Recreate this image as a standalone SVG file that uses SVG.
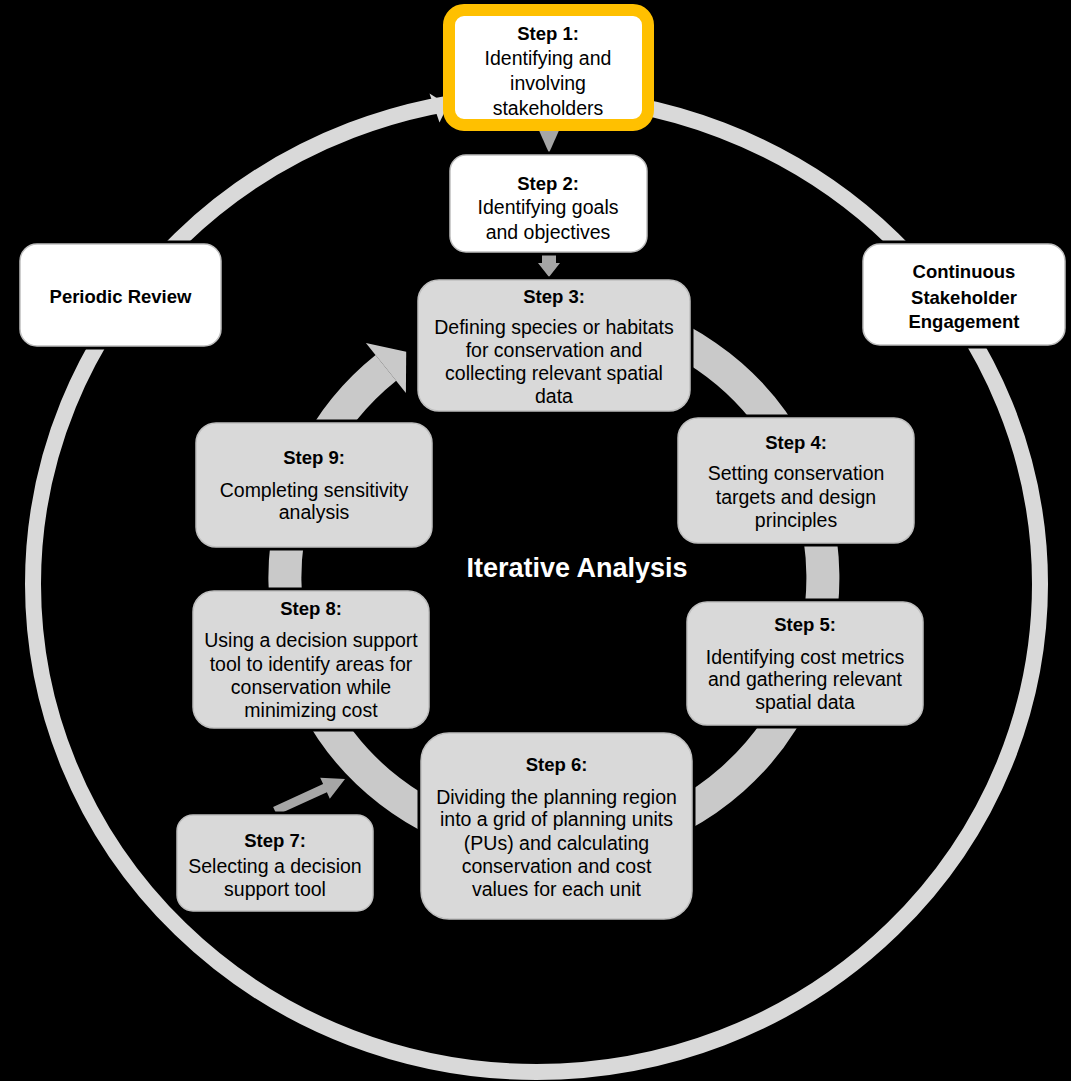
<svg xmlns="http://www.w3.org/2000/svg" width="1071" height="1081" viewBox="0 0 1071 1081">
<style>
.halo{fill:#000;stroke:#000;stroke-width:7}
.gbox{fill:#D9D9D9;stroke:#BFBFBF;stroke-width:1.5}
.wbox{fill:#FFFFFF;stroke:#BFBFBF;stroke-width:1.5}
.t{font-family:"Liberation Sans",Arial,sans-serif;font-size:19.5px;fill:#000;text-anchor:middle}
.b{font-weight:bold;font-size:18.5px}
.big{font-family:"Liberation Sans",Arial,sans-serif;font-size:27px;font-weight:bold;fill:#FFF;text-anchor:middle}
.ring{fill:none;stroke:#C9C9C9;stroke-width:33}
.outer{fill:none;stroke:#D9D9D9;stroke-width:16}
.dark{fill:#A6A6A6}
</style>
<rect x="0" y="0" width="1071" height="1081" fill="#000"/>
<g id="connectors">
  <ellipse class="outer" cx="536.5" cy="584" rx="503.5" ry="488"/>
  <polygon fill="#D9D9D9" points="429.5,93.5 439.5,122.5 448,105"/>
  <path class="ring" d="M 600.7 313.1 A 269 269 0 1 1 385.9 367.9"/>
  <polygon fill="#C9C9C9" points="365.9,342.9 405.9,392.9 406.2,351.7"/>
  <polygon class="dark" points="537,126 561,126 549,153"/>
  <polygon class="dark" points="542,255 556,255 556,263 560,263 549,277 538,263 542,263"/>
  <polygon class="dark" points="276.9,815.1 326.9,792.3 329.8,798.7 345,779 320.2,777.7 323.1,784.1 273.1,806.9"/>
</g>
<g id="periodic-review">
  <rect class="halo" x="20" y="244" width="201" height="102" rx="17"/>
  <rect class="wbox" x="20" y="244" width="201" height="102" rx="17"/>
  <text class="t b" x="120.5" y="302.5">Periodic Review</text>
</g>
<g id="continuous-engagement">
  <rect class="halo" x="863" y="244" width="202" height="101" rx="17"/>
  <rect class="wbox" x="863" y="244" width="202" height="101" rx="17"/>
  <text class="t b" x="964" y="277.5">Continuous</text>
  <text class="t b" x="964" y="303.5">Stakeholder</text>
  <text class="t b" x="964" y="327.5">Engagement</text>
</g>
<g id="step1">
  <rect x="449" y="10" width="199" height="115" rx="15" fill="#FFF" stroke="#FFC000" stroke-width="12"/>
  <text class="t b" x="548" y="39.5">Step 1:</text>
  <text class="t" x="548" y="64.5">Identifying and</text>
  <text class="t" x="548" y="89.5">involving</text>
  <text class="t" x="548" y="114.5">stakeholders</text>
</g>
<g id="step2">
  <rect class="halo" x="450" y="155" width="197" height="97" rx="16"/>
  <rect class="wbox" x="450" y="155" width="197" height="97" rx="16"/>
  <text class="t b" x="548" y="189.5">Step 2:</text>
  <text class="t" x="548" y="213.5">Identifying goals</text>
  <text class="t" x="548" y="238.5">and objectives</text>
</g>
<g id="step3">
  <rect class="halo" x="418" y="280" width="272" height="131" rx="21"/>
  <rect class="gbox" x="418" y="280" width="272" height="131" rx="21"/>
  <text class="t b" x="554" y="302.5">Step 3:</text>
  <text class="t" x="554" y="333.5">Defining species or habitats</text>
  <text class="t" x="554" y="356.5">for conservation and</text>
  <text class="t" x="554" y="379.5">collecting relevant spatial</text>
  <text class="t" x="554" y="402.5">data</text>
</g>
<g id="step4">
  <rect class="halo" x="678" y="418" width="236" height="125" rx="20"/>
  <rect class="gbox" x="678" y="418" width="236" height="125" rx="20"/>
  <text class="t b" x="796" y="448.5">Step 4:</text>
  <text class="t" x="796" y="479.5">Setting conservation</text>
  <text class="t" x="796" y="503.5">targets and design</text>
  <text class="t" x="796" y="526.5">principles</text>
</g>
<g id="step5">
  <rect class="halo" x="687" y="602" width="236" height="123" rx="20"/>
  <rect class="gbox" x="687" y="602" width="236" height="123" rx="20"/>
  <text class="t b" x="805" y="630.5">Step 5:</text>
  <text class="t" x="805" y="663.5">Identifying cost metrics</text>
  <text class="t" x="805" y="685.5">and gathering relevant</text>
  <text class="t" x="805" y="708.5">spatial data</text>
</g>
<g id="step6">
  <rect class="halo" x="421" y="733" width="271" height="186" rx="28"/>
  <rect class="gbox" x="421" y="733" width="271" height="186" rx="28"/>
  <text class="t b" x="556.5" y="770.5">Step 6:</text>
  <text class="t" x="556.5" y="803.5">Dividing the planning region</text>
  <text class="t" x="556.5" y="825.5">into a grid of planning units</text>
  <text class="t" x="556.5" y="849.5">(PUs) and calculating</text>
  <text class="t" x="556.5" y="872.5">conservation and cost</text>
  <text class="t" x="556.5" y="895.5">values for each unit</text>
</g>
<g id="step7">
  <rect class="halo" x="177" y="815" width="196" height="96" rx="16"/>
  <rect class="gbox" x="177" y="815" width="196" height="96" rx="16"/>
  <text class="t b" x="275" y="846.5">Step 7:</text>
  <text class="t" x="275" y="872.5">Selecting a decision</text>
  <text class="t" x="275" y="895.5">support tool</text>
</g>
<g id="step8">
  <rect class="halo" x="193" y="591" width="236" height="137" rx="21"/>
  <rect class="gbox" x="193" y="591" width="236" height="137" rx="21"/>
  <text class="t b" x="311" y="614.5">Step 8:</text>
  <text class="t" x="311" y="646.5">Using a decision support</text>
  <text class="t" x="311" y="670.5">tool to identify areas for</text>
  <text class="t" x="311" y="693.5">conservation while</text>
  <text class="t" x="311" y="716.5">minimizing cost</text>
</g>
<g id="step9">
  <rect class="halo" x="196" y="423" width="236" height="124" rx="20"/>
  <rect class="gbox" x="196" y="423" width="236" height="124" rx="20"/>
  <text class="t b" x="314" y="463.5">Step 9:</text>
  <text class="t" x="314" y="496.5">Completing sensitivity</text>
  <text class="t" x="314" y="518.5">analysis</text>
</g>
<g id="iterative-analysis">
  <text class="big" x="577" y="576.5">Iterative Analysis</text>
</g>
</svg>
